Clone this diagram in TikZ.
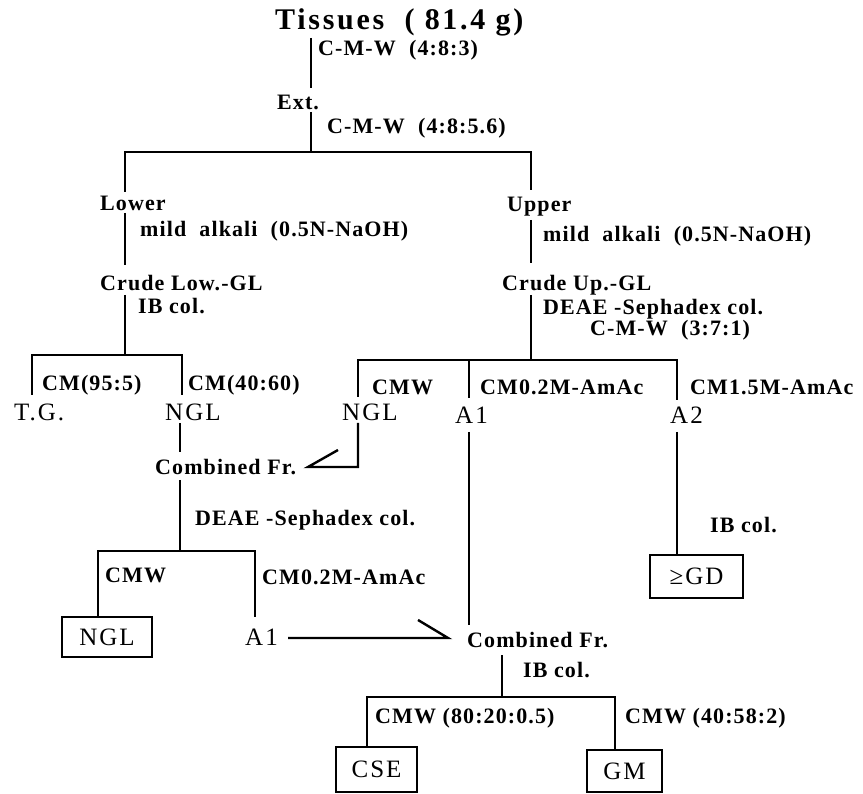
\documentclass[tikz,border=0pt]{standalone}
\usepackage{fontspec}
\newfontfamily\lblfont{Liberation Serif}[LetterSpace=5]
\newfontfamily\bigfont{Liberation Serif}[LetterSpace=8]
\newfontfamily\ttlfont{Liberation Serif}[LetterSpace=9]
\tikzset{
  lbl/.style={font={\lblfont\bfseries\fontsize{22}{24}\selectfont}, anchor=west, inner sep=0pt},
  big/.style={font={\bigfont\fontsize{25}{27}\selectfont}, anchor=west, inner sep=0pt},
  ttl/.style={font={\ttlfont\bfseries\fontsize{30}{32}\selectfont}, anchor=west, inner sep=0pt},
  boxed/.style={draw, line width=2.2pt, font={\bigfont\fontsize{25}{27}\selectfont}, inner sep=0pt},
  ln/.style={line width=2.4pt},
}
\begin{document}
\begin{tikzpicture}[x=1pt,y=-1pt]
\useasboundingbox (0,0) rectangle (863,794);
% texts
\node[ttl] (tis) at (275,22) {Tissues \ ( 81.4 g)};
\node[lbl] (l1) at (318,50) {C-M-W \ (4:8:3)};
\node[lbl] (ext) at (277,102) {Ext.};
\node[lbl] (l2) at (327,128) {C-M-W \ (4:8:5.6)};
\node[lbl] (lower) at (100,203) {Lower};
\node[lbl] (l3) at (140,231) {mild \ alkali \ (0.5N-NaOH)};
\node[lbl] (crl) at (100,283) {Crude Low.-GL};
\node[lbl] (l4) at (138,306) {IB col.};
\node[lbl] (upper) at (507,207) {Upper};
\node[lbl] (l5) at (543,236) {mild \ alkali \ (0.5N-NaOH)};
\node[lbl] (cru) at (502,285) {Crude Up.-GL};
\node[lbl] (l6) at (543,309) {DEAE -Sephadex col.};
\node[lbl] (l7) at (590,330) {C-M-W \ (3:7:1)};
\node[lbl] (l8) at (42,385) {CM(95:5)};
\node[lbl] (l9) at (188,385) {CM(40:60)};
\node[big] (tg) at (14,412) {T.G.};
\node[big] (ngla) at (165,412) {NGL};
\node[lbl] (l10) at (372,387) {CMW};
\node[big] (nglb) at (342,412) {NGL};
\node[lbl] (l11) at (480,387) {CM0.2M-AmAc};
\node[lbl] (l12) at (690,387) {CM1.5M-AmAc};
\node[big] (a1) at (455,415) {A1};
\node[big] (a2) at (670,415) {A2};
\node[lbl] (cfa) at (155,467) {Combined Fr.};
\node[lbl] (l13) at (195,520) {DEAE -Sephadex col.};
\node[lbl] (l14) at (105,575) {CMW};
\node[lbl] (l15) at (262,577) {CM0.2M-AmAc};
\node[boxed, minimum width=90pt, minimum height=40pt] (nglc) at (107,637) {NGL};
\node[big] (a1b) at (245,637) {A1};
\node[lbl] (cfb) at (467,640) {Combined Fr.};
\node[lbl] (l16) at (523,670) {IB col.};
\node[lbl] (l17) at (375,718) {CMW (80:20:0.5)};
\node[lbl] (l18) at (625,718) {CMW (40:58:2)};
\node[boxed, minimum width=81pt, minimum height=45pt] (cse) at (376.5,769.5) {CSE};
\node[boxed, minimum width=75pt, minimum height=42pt] (gm) at (624.5,771) {GM};
\node[boxed, minimum width=93pt, minimum height=43pt] (gd) at (696.5,576.5) {≥GD};
\node[lbl] (l19) at (710,525) {IB col.};
% junction coordinates
\coordinate (t0) at (311,38);
\coordinate (t1) at (311,88);
\coordinate (e0) at (311,112);
\coordinate (e1) at (311,152);
\coordinate (sl) at (125,152);
\coordinate (sr) at (531,152);
\coordinate (lw0) at (125,192);
\coordinate (up0) at (531,190);
\coordinate (lw1) at (125,213);
\coordinate (lw2) at (125,265);
\coordinate (cl0) at (125,295);
\coordinate (cl1) at (125,355);
\coordinate (bl) at (32,355);
\coordinate (bl1) at (32,395);
\coordinate (br) at (182,355);
\coordinate (br1) at (182,395);
\coordinate (ng0) at (180,423);
\coordinate (ng1) at (180,452);
\coordinate (cf0) at (180,480);
\coordinate (cf1) at (180,551);
\coordinate (dl) at (98,551);
\coordinate (dr) at (255,551);
\coordinate (dr1) at (255,617);
\coordinate (up1) at (531,220);
\coordinate (up2) at (531,263);
\coordinate (cu0) at (531,295);
\coordinate (cu1) at (531,360);
\coordinate (ul) at (358,360);
\coordinate (ul1) at (358,397);
\coordinate (um) at (469,360);
\coordinate (um1) at (469,398);
\coordinate (ur) at (677,360);
\coordinate (ur1) at (677,400);
\coordinate (nb0) at (358,423);
\coordinate (nb1) at (358,467);
\coordinate (nbt) at (308,467);
\coordinate (nbb) at (338,450);
\coordinate (a10) at (469,432);
\coordinate (a11) at (469,625);
\coordinate (a20) at (677,432);
\coordinate (ab0) at (288,638);
\coordinate (abt) at (448,638);
\coordinate (abb) at (418,620);
\coordinate (cb0) at (502,655);
\coordinate (cb1) at (502,697);
\coordinate (cl) at (367,697);
\coordinate (cr) at (615,697);
% connectors
\draw[ln] (t0) -- (t1);
\draw[ln] (e0) -- (e1);
\draw[ln] (lw0) -- (sl) -- (sr) -- (up0);
\draw[ln] (lw1) -- (lw2);
\draw[ln] (cl0) -- (cl1);
\draw[ln] (bl1) -- (bl) -- (br) -- (br1);
\draw[ln] (ng0) -- (ng1);
\draw[ln] (cf0) -- (cf1);
\draw[ln] (nglc.north -| dl) -- (dl) -- (dr) -- (dr1);
\draw[ln] (up1) -- (up2);
\draw[ln] (cu0) -- (cu1);
\draw[ln] (ul1) -- (ul) -- (ur) -- (ur1);
\draw[ln] (um) -- (um1);
\draw[ln] (nb0) -- (nb1) -- (nbt) -- (nbb);
\draw[ln] (a10) -- (a11);
\draw[ln] (a20) -- (gd.north -| a20);
\draw[ln] (ab0) -- (abt) -- (abb);
\draw[ln] (cb0) -- (cb1);
\draw[ln] (cse.north -| cl) -- (cl) -- (cr) -- (gm.north -| cr);
\end{tikzpicture}
\end{document}
